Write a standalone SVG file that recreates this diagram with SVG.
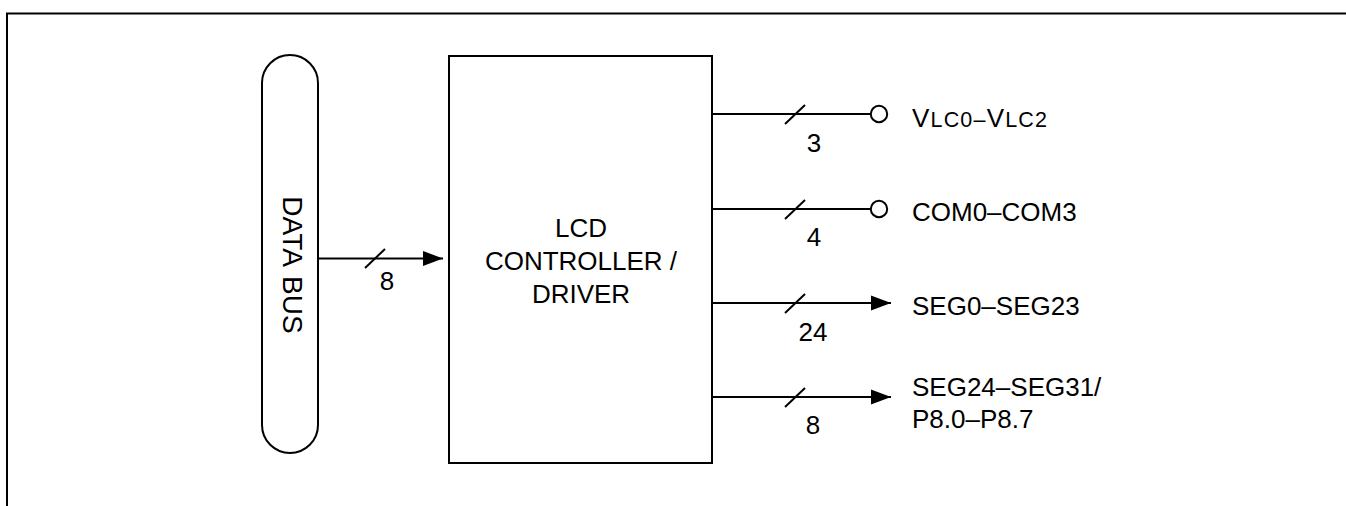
<svg xmlns="http://www.w3.org/2000/svg" width="1346" height="506" viewBox="0 0 1346 506">
<defs>
<style>
.ln{stroke:#000;stroke-width:2;fill:none}
.box{stroke:#000;stroke-width:2;fill:#fff}
.t{font-family:"Liberation Sans",Arial,Helvetica,sans-serif;font-size:26px;fill:#000}
.m{text-anchor:middle}
.s{font-size:21.5px}
</style>
<marker id="arr" markerUnits="userSpaceOnUse" markerWidth="22" markerHeight="16" refX="20" refY="8" orient="auto">
<path d="M0,0.5 L20,8 L0,15.5 Z" fill="#000"/>
</marker>
</defs>
<rect width="1346" height="506" fill="#fff"/>
<path id="frame" class="ln" d="M7,520 V13.5 H1360"/>
<g id="databus">
<rect class="box" x="262" y="55" width="56" height="398" rx="28" ry="28"/>
<text class="t m" style="font-size:28px;word-spacing:3px" transform="translate(283,265) rotate(90)">DATA BUS</text>
</g>
<g id="lcd">
<rect class="box" x="449" y="56" width="263" height="407"/>
<text class="t m" x="581" y="237">LCD</text>
<text class="t m" x="581" y="270">CONTROLLER /</text>
<text class="t m" x="581" y="303">DRIVER</text>
</g>
<g id="connectors">
<line class="ln" x1="318" y1="258.5" x2="443" y2="258.5" marker-end="url(#arr)"/>
<line class="ln" x1="365" y1="268" x2="385" y2="249"/>
<text class="t m" x="387" y="290">8</text>
<line class="ln" x1="712" y1="114" x2="871" y2="114"/>
<line class="ln" x1="785" y1="124" x2="805" y2="105"/>
<text class="t m" x="814" y="151.5">3</text>
<line class="ln" x1="712" y1="209" x2="871" y2="209"/>
<line class="ln" x1="785" y1="219" x2="805" y2="200"/>
<text class="t m" x="814" y="246">4</text>
<line class="ln" x1="712" y1="303" x2="891" y2="303" marker-end="url(#arr)"/>
<line class="ln" x1="785" y1="313" x2="805" y2="294"/>
<text class="t m" x="813" y="340.5">24</text>
<line class="ln" x1="712" y1="397" x2="891" y2="397" marker-end="url(#arr)"/>
<line class="ln" x1="785" y1="407" x2="805" y2="388"/>
<text class="t m" x="813" y="434">8</text>
</g>
<g id="vlc">
<circle class="box" cx="879" cy="114" r="8.2"/>
<text class="t" x="912" y="127" textLength="135" lengthAdjust="spacing">V<tspan class="s">LC0–</tspan>V<tspan class="s">LC2</tspan></text>
</g>
<g id="com">
<circle class="box" cx="879" cy="209" r="8.2"/>
<text class="t" x="912" y="221">COM0–COM3</text>
</g>
<g id="seg0">
<text class="t" x="912" y="315">SEG0–SEG23</text>
</g>
<g id="seg24">
<text class="t" x="912" y="396">SEG24–SEG31/</text>
<text class="t" x="912" y="428">P8.0–P8.7</text>
</g>
</svg>
